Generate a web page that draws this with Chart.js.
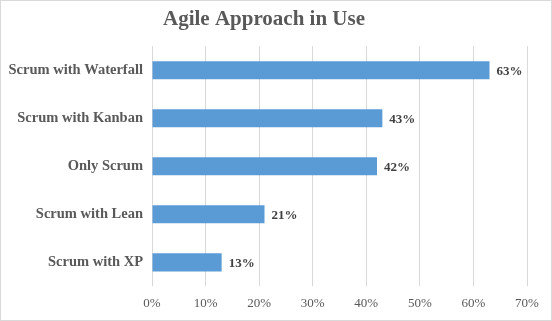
<!DOCTYPE html>
<html>
<head>
<meta charset="utf-8">
<script src="https://cdn.jsdelivr.net/npm/chart.js@4/dist/chart.umd.min.js"></script>
<style>
    html, body { margin: 0; padding: 0; background: #fff; }
    .chart-box {
        width: 552px;
        height: 321px;
        box-sizing: border-box;
        border: 1px solid #d9d9d9;
        background: #fff;
    }
</style>
</head>
<body>
<div class="chart-box"><canvas id="agileChart" width="550" height="319"></canvas></div>
<script>
// Survey results: which agile approach is in use
const categories = ['Scrum with Waterfall', 'Scrum with Kanban', 'Only Scrum', 'Scrum with Lean', 'Scrum with XP'];
const shares = [63, 43, 42, 21, 13];
const tickValues = [0, 10, 20, 30, 40, 50, 60, 70];

const serif = "'Liberation Serif', 'DejaVu Serif', serif";

// Writes the percentage just past the end of each bar
const barValueLabels = {
    id: 'barValueLabels',
    afterDatasetsDraw(chart) {
        const ctx = chart.ctx;
        const meta = chart.getDatasetMeta(0);
        ctx.save();
        ctx.font = 'bold 13px ' + serif;
        ctx.fillStyle = '#404040';
        ctx.textAlign = 'left';
        ctx.textBaseline = 'middle';
        meta.data.forEach(function(bar, i) {
            ctx.fillText(shares[i] + '%', bar.x + 7, bar.y + 1);
        });
        ctx.restore();
    }
};

new Chart(document.getElementById('agileChart'), {
    type: 'bar',
    data: {
        labels: categories,
        datasets: [{
            data: shares,
            backgroundColor: '#5b9bd5',
            borderWidth: 0,
            categoryPercentage: 1,
            barPercentage: 0.375
        }]
    },
    options: {
        indexAxis: 'y',
        responsive: false,
        animation: false,
        layout: {
            padding: { left: 0, right: 24, top: 0, bottom: 0 }
        },
        plugins: {
            legend: { display: false },
            tooltip: { enabled: false },
            title: {
                display: true,
                text: 'Agile Approach in Use',
                color: '#595959',
                font: { family: serif, size: 21, weight: 'bold' },
                padding: { top: 6, bottom: 14 }
            }
        },
        scales: {
            x: {
                min: 0,
                max: 70,
                afterBuildTicks: function(scale) {
                    scale.ticks = tickValues.map(function(v) { return { value: v }; });
                },
                grid: {
                    color: '#d9d9d9',
                    drawTicks: false
                },
                border: { display: false },
                ticks: {
                    padding: 9,
                    color: '#595959',
                    font: { family: serif, size: 13 },
                    callback: function(value) { return value + '%'; }
                }
            },
            y: {
                afterFit: function(scale) {
                    scale.width = 151;
                },
                grid: { display: false, drawTicks: false },
                border: { display: false },
                ticks: {
                    padding: 9,
                    color: '#595959',
                    font: { family: serif, size: 14.5, weight: 'bold' }
                }
            }
        }
    },
    plugins: [barValueLabels]
});
</script>
</body>
</html>
